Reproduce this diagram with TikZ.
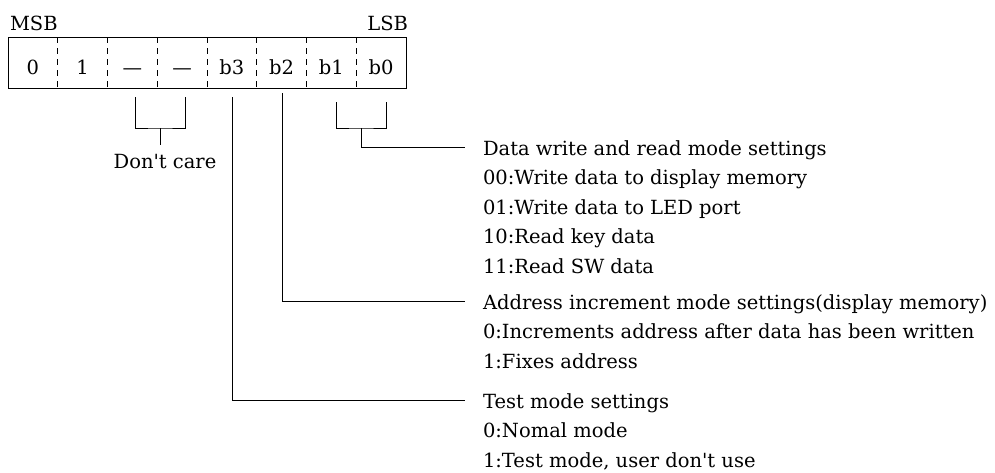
\documentclass[tikz,border=0pt]{standalone}
\usepackage{fontspec}
\setmainfont{DejaVu Serif}
\begin{document}
\begin{tikzpicture}[x=1pt,y=-1pt,
  every node/.style={inner sep=0pt, outer sep=0pt, font=\fontsize{19.5}{29.5}\selectfont},
  cell/.style={minimum width=49.75pt, minimum height=51pt, text height=23pt, text depth=0pt},
  frame/.style={line width=1pt, black},
  divider/.style={line width=1pt, black, dash pattern=on 6pt off 5pt},
  wire/.style={line width=1pt, black},
  title/.style={anchor=base west, inner xsep=18pt, text height=16pt, text depth=0pt},
  desc/.style={anchor=base west}]
\useasboundingbox (0,0) rectangle (995,472);

% register cells
\node[cell] (c7) at (32.875,62.5) {0};
\node[cell] (c6) at (82.625,62.5) {1};
\node[cell] (c5) at (132.375,62.5) {—};
\node[cell] (c4) at (182.125,62.5) {—};
\node[cell] (c3) at (231.875,62.5) {b3};
\node[cell] (c2) at (281.625,62.5) {b2};
\node[cell] (c1) at (331.375,62.5) {b1};
\node[cell] (c0) at (381.125,62.5) {b0};
\draw[frame] (c7.north west) rectangle (c0.south east);
\foreach \c in {c7,c6,c5,c4,c3,c2,c1}
  \draw[divider] (\c.north east) -- (\c.south east);

\node[anchor=base west] (msb) at (10,30) {MSB};
\node[anchor=base east] (lsb) at (408,30) {LSB};

% Don't care bracket
\coordinate (dcA) at (135,97);
\coordinate (dcB) at (185,97);
\coordinate (dcJ) at (160,128);
\coordinate (dcE) at (160,145);
\draw[wire] (dcA) |- (dcJ) -| (dcB);
\draw[wire] (dcJ) -- (dcE);
\node[anchor=base] (dc) at (165,168) {Don\textquotesingle t care};

% b1 b0 bracket
\coordinate (b1t) at (336,102);
\coordinate (b0t) at (386,102);
\coordinate (b10J) at (361,128);
\draw[wire] (b1t) |- (b10J) -| (b0t);

% b2, b3 leads
\coordinate (b2t) at (282,93);
\coordinate (b3t) at (232,97);

% Data write group
\node[title] (data) at (465,155) {Data write and read mode settings};
\node[desc] (d00) at (483,184.5) {00:Write data to display memory};
\node[desc] (d01) at (483,214) {01:Write data to LED port};
\node[desc] (d10) at (483,243.5) {10:Read key data};
\node[desc] (d11) at (483,273) {11:Read SW data};

% Address group
\node[title] (addr) at (465,309) {Address increment mode settings(display memory)};
\node[desc] (a0) at (483,338.5) {0:Increments address after data has been written};
\node[desc] (a1) at (483,368) {1:Fixes address};

% Test group
\node[title] (test) at (465,408) {Test mode settings};
\node[desc] (t0) at (483,437.5) {0:Nomal mode};
\node[desc] (t1) at (483,467) {1:Test mode, user don\textquotesingle t use};

\draw[wire] (b10J) |- (data.west);
\draw[wire] (b2t) |- (addr.west);
\draw[wire] (b3t) |- (test.west);
\end{tikzpicture}
\end{document}
